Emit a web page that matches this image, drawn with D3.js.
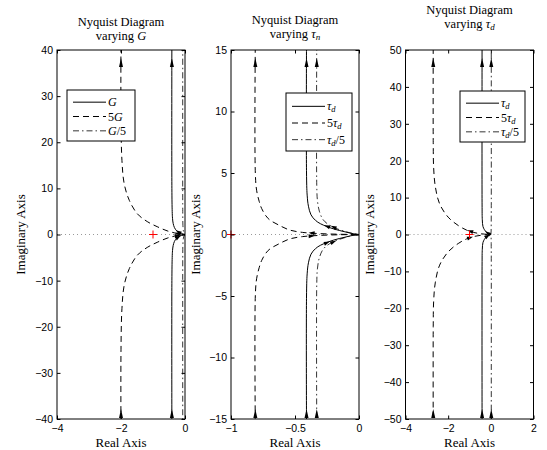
<!DOCTYPE html>
<html lang="en"><head><meta charset="utf-8">
<script type="text/javascript" src="https://cdn.jsdelivr.net/npm/d3@7/dist/d3.min.js"></script>
<style>
  body { margin: 0; background: #fff; }
  text { fill: #000; }
</style>
</head>
<body>
<script type="text/javascript">
// three nyquist panels, upper branch of each curve
// (lower branch is its mirror image), points go from the top down to the origin

var xTicks1 = [-4, -2, 0];
var yTicks1 = [-40, -30, -20, -10, 0, 10, 20, 30, 40];
var xTicks2 = [-1, -0.5, 0];
var yTicks2 = [-15, -10, -5, 0, 5, 10, 15];
var xTicks3 = [-4, -2, 0, 2];
var yTicks3 = [-50, -40, -30, -20, -10, 0, 10, 20, 30, 40, 50];

// panel 1, varying G
var g1Solid = [[-0.41, 45], [-0.41, 10], [-0.40, 5], [-0.39, 3.5], [-0.37, 2.4], [-0.33, 1.5],
               [-0.26, 0.8], [-0.16, 0.35], [-0.06, 0.08], [0, 0]];
var g1Dash = [[-2.0, 45], [-2.0, 25], [-1.97, 16], [-1.90, 11], [-1.74, 7.4], [-1.49, 4.5],
              [-1.18, 2.8], [-0.87, 1.7], [-0.56, 0.8], [-0.32, 0.34], [-0.13, 0.1], [0, 0]];
var g1DashDot = [[-0.07, 45], [-0.07, 5], [-0.065, 2], [-0.05, 0.8], [-0.03, 0.3], [0, 0]];

// panel 2, varying tau_n
var g2Solid = [[-0.41, 16], [-0.41, 5], [-0.405, 3.2], [-0.395, 2.3], [-0.375, 1.6], [-0.34, 1.15],
               [-0.30, 0.87], [-0.20, 0.46], [-0.11, 0.22], [-0.04, 0.05], [0, 0]];
var g2Dash = [[-0.81, 16], [-0.81, 5], [-0.80, 3.6], [-0.78, 2.7], [-0.76, 2.1], [-0.71, 1.3],
              [-0.62, 0.73], [-0.54, 0.36], [-0.44, 0.17], [-0.30, 0.07], [-0.15, 0.02], [0, 0]];
var g2DashDot = [[-0.33, 16], [-0.33, 4], [-0.325, 2.8], [-0.31, 1.9], [-0.28, 1.2], [-0.23, 0.75],
                 [-0.17, 0.46], [-0.10, 0.22], [-0.04, 0.06], [0, 0]];

// panel 3, varying tau_d
var g3Solid = [[-0.41, 55], [-0.41, 8], [-0.40, 4], [-0.37, 2.2], [-0.30, 1.3], [-0.20, 0.6],
               [-0.10, 0.2], [0, 0]];
var g3Dash = [[-2.7, 55], [-2.7, 25], [-2.68, 18], [-2.6, 12.9], [-2.4, 8.3], [-2.0, 4.7],
              [-1.53, 2.45], [-1.14, 1.2], [-0.8, 0.55], [-0.45, 0.2], [-0.15, 0.04], [0, 0]];
var g3DashDot = [[0.02, 55], [0.02, 5], [0.015, 1.5], [0.01, 0.5], [0, 0]];

var legend1 = ["G", "5G", "G/5"];
var legend2 = ["τd", "5τd", "τd/5"];
var legend3 = ["τd", "5τd", "τd/5"];

var W = 547, H = 450;
var top0 = 50, bot0 = 419, pw = 128;

var svg = d3.select("body").append("svg")
    .attr("width", W).attr("height", H);

var dashes = ["none", "6,4", "6,3,1.5,3"];
var serif = "'Liberation Serif', 'Times New Roman', serif";
var sans = "'Liberation Sans', Arial, Helvetica, sans-serif";

var panels = [
  { left: 57, xd: [-4, 0], yd: [-40, 40], xt: xTicks1, yt: yTicks1,
    curves: [g1Solid, g1Dash, g1DashDot], arrows: [true, true, false], mid: [6, 9, -1],
    legend: legend1, sub: null, greek: "G", t1: 26, t2: 40, ylab: 25,
    box: [67, 90, 68, 51] },
  { left: 231, xd: [-1, 0], yd: [-15, 15], xt: xTicks2, yt: yTicks2,
    curves: [g2Solid, g2Dash, g2DashDot], arrows: [true, true, true], mid: [6, 8, 5],
    legend: legend2, sub: "n", greek: "τ", t1: 24, t2: 38, ylab: 200,
    box: [286, 93, 66, 58] },
  { left: 405.5, xd: [-4, 2], yd: [-50, 50], xt: xTicks3, yt: yTicks3,
    curves: [g3Solid, g3Dash, g3DashDot], arrows: [true, true, true], mid: [5, 7, -1],
    legend: legend3, sub: "d", greek: "τ", t1: 14, t2: 28, ylab: 374,
    box: [460, 91, 65, 51] }
];

panels.forEach(function(p, pi) {
  var x = d3.scaleLinear().domain(p.xd).range([p.left, p.left + pw]);
  var y = d3.scaleLinear().domain(p.yd).range([bot0, top0]);
  var g = svg.append("g");

  g.append("clipPath").attr("id", "clip" + pi)
    .append("rect").attr("x", p.left).attr("y", top0)
    .attr("width", pw).attr("height", bot0 - top0);

  var plot = g.append("g").attr("clip-path", "url(#clip" + pi + ")");

  // dotted real axis
  plot.append("line")
    .attr("x1", p.left).attr("x2", p.left + pw)
    .attr("y1", y(0)).attr("y2", y(0))
    .attr("stroke", "#999").attr("stroke-width", 1)
    .attr("stroke-dasharray", "1,3");

  var line = d3.line()
    .x(function(d) { return x(d[0]); })
    .y(function(d) { return y(d[1]); })
    .curve(d3.curveCatmullRom.alpha(0.5));

  p.curves.forEach(function(c, ci) {
    var lower = c.map(function(d) { return [d[0], -d[1]]; });
    var upper = c.slice().reverse().slice(1);
    plot.append("path")
      .attr("d", line(lower.concat(upper)))
      .attr("fill", "none")
      .attr("stroke", "#000")
      .attr("stroke-width", ci == 2 ? 0.8 : 1)
      .attr("stroke-dasharray", dashes[ci]);

    // arrows pointing up near the top and bottom edges
    if (p.arrows[ci]) {
      var ax = x(c[0][0]);
      [top0 + 8, bot0 - 10].forEach(function(tip) {
        plot.append("path")
          .attr("d", "M" + ax + "," + tip + "L" + (ax - 2) + "," + (tip + 9) +
                "L" + (ax + 2) + "," + (tip + 9) + "Z")
          .attr("fill", "#000");
      });
    }

    // small arrows near the origin
    if (p.mid[ci] >= 0) {
      var i = p.mid[ci];
      var a = c[i], b = c[i + 1];
      [[b, a], [[a[0], -a[1]], [b[0], -b[1]]]].forEach(function(seg) {
        var x0 = x(seg[0][0]), y0 = y(seg[0][1]), x1 = x(seg[1][0]), y1 = y(seg[1][1]);
        var ang = Math.atan2(y1 - y0, x1 - x0) * 180 / Math.PI;
        var mx = (x0 + x1) / 2, my = (y0 + y1) / 2;
        plot.append("path")
          .attr("d", "M3,0L-3,-2L-3,2Z")
          .attr("transform", "translate(" + mx + "," + my + ") rotate(" + ang + ")")
          .attr("fill", "#000");
      });
    }
  });

  // red critical point
  var cx = x(-1), cy = y(0);
  g.append("path")
    .attr("d", "M" + (cx - 4) + "," + cy + "H" + (cx + 4) + "M" + cx + "," + (cy - 4) + "V" + (cy + 4))
    .attr("stroke", "red").attr("stroke-width", 1);

  // axes, ticks inside on all four sides
  var fmt = function(d) { return d3.format("")(d); };
  var ax1 = g.append("g").attr("transform", "translate(0," + bot0 + ")")
    .call(d3.axisBottom(x).tickValues(p.xt).tickFormat(fmt).tickSizeInner(-3.5).tickSizeOuter(0).tickPadding(6));
  var ax2 = g.append("g").attr("transform", "translate(" + p.left + ",0)")
    .call(d3.axisLeft(y).tickValues(p.yt).tickFormat(fmt).tickSizeInner(-3.5).tickSizeOuter(0).tickPadding(4));
  var ax3 = g.append("g").attr("transform", "translate(0," + top0 + ")")
    .call(d3.axisTop(x).tickValues(p.xt).tickSizeInner(-3.5).tickSizeOuter(0).tickFormat(""));
  var ax4 = g.append("g").attr("transform", "translate(" + (p.left + pw) + ",0)")
    .call(d3.axisRight(y).tickValues(p.yt).tickSizeInner(-3.5).tickSizeOuter(0).tickFormat(""));
  [ax1, ax2, ax3, ax4].forEach(function(a) {
    a.select(".domain").remove();
    a.attr("font-family", sans).attr("font-size", 10.5);
    a.selectAll(".tick line").attr("stroke", "#000");
  });

  g.append("rect")
    .attr("x", p.left).attr("y", top0).attr("width", pw).attr("height", bot0 - top0)
    .attr("fill", "none").attr("stroke", "#000").attr("stroke-width", 1);

  // titles and labels
  var cxm = p.left + pw / 2;
  g.append("text").attr("x", cxm).attr("y", p.t1).attr("text-anchor", "middle")
    .attr("font-family", serif).attr("font-size", 12.5).text("Nyquist Diagram");
  var t2 = g.append("text").attr("x", cxm).attr("y", p.t2).attr("text-anchor", "middle")
    .attr("font-family", serif).attr("font-size", 12.5);
  t2.append("tspan").text("varying ");
  t2.append("tspan").attr("font-style", "italic").text(p.greek);
  if (p.sub) {
    t2.append("tspan").attr("font-style", "italic").attr("font-size", 9)
      .attr("dy", 2).text(p.sub);
  }

  g.append("text").attr("x", cxm).attr("y", 447).attr("text-anchor", "middle")
    .attr("font-family", serif).attr("font-size", 13).text("Real Axis");
  g.append("text")
    .attr("transform", "translate(" + p.ylab + "," + ((top0 + bot0) / 2) + ") rotate(-90)")
    .attr("text-anchor", "middle")
    .attr("font-family", serif).attr("font-size", 13).text("Imaginary Axis");

  // legend
  var b = p.box;
  var lg = g.append("g");
  lg.append("rect").attr("x", b[0]).attr("y", b[1]).attr("width", b[2]).attr("height", b[3])
    .attr("fill", "#fff").attr("stroke", "#000").attr("stroke-width", 1);
  var rowH = (b[3] - 8) / 3;
  p.legend.forEach(function(lab, li) {
    var ry = b[1] + 5 + rowH * li + rowH / 2;
    lg.append("line")
      .attr("x1", b[0] + 6).attr("x2", b[0] + 39)
      .attr("y1", ry).attr("y2", ry)
      .attr("stroke", "#000").attr("stroke-width", li == 2 ? 0.8 : 1)
      .attr("stroke-dasharray", dashes[li]);
    var t = lg.append("text").attr("x", b[0] + 41).attr("y", ry + 4)
      .attr("font-family", serif).attr("font-size", 12);
    // split label into upright digits / italic symbols
    var m = lab.match(/^(5?)(G|τ)(d?)(\/5)?$/);
    if (m[1]) t.append("tspan").text(m[1]);
    t.append("tspan").attr("font-style", "italic").text(m[2]);
    if (m[3]) t.append("tspan").attr("font-style", "italic").attr("font-size", 8.5).attr("dy", 2).text(m[3]);
    if (m[4]) t.append("tspan").attr("dy", m[3] ? -2 : 0).text(m[4]);
  });
});
</script>
</body></html>
